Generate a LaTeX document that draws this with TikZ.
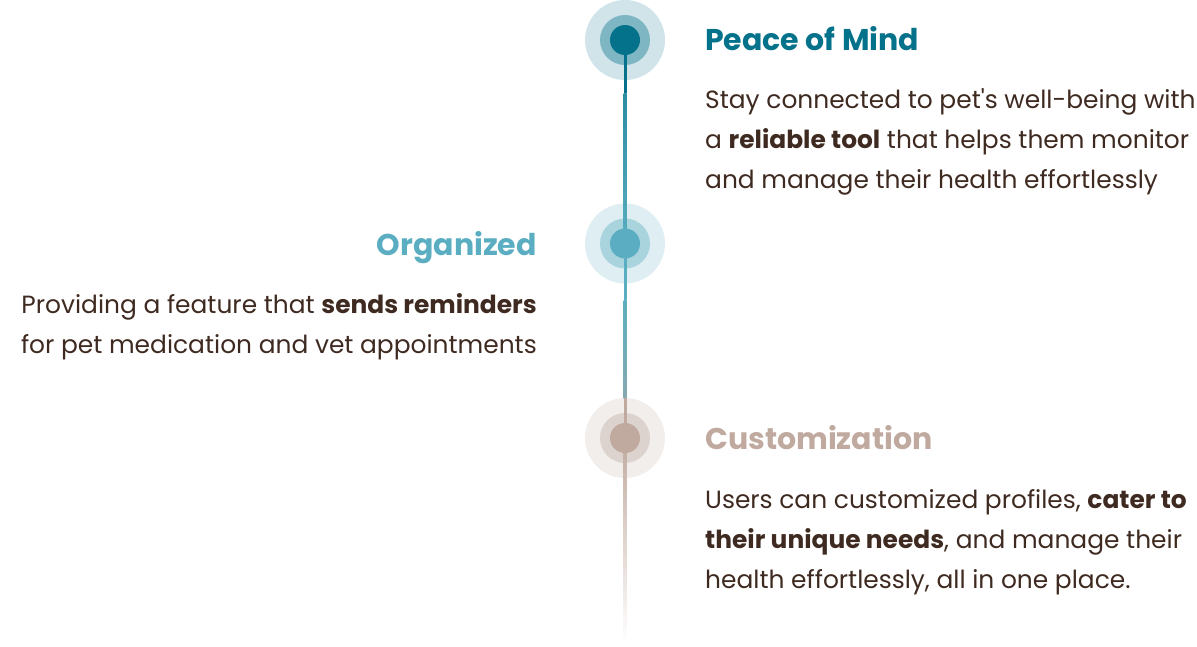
\documentclass[tikz,border=0pt]{standalone}
\usepackage{fontspec}
\setmainfont{Poppins}
\definecolor{tealA}{HTML}{04728A}
\definecolor{tealAmid}{HTML}{7FB6C4}
\definecolor{tealAout}{HTML}{D0E4EA}
\definecolor{tealB}{HTML}{5BAEC1}
\definecolor{tealBmid}{HTML}{A9D4DD}
\definecolor{tealBout}{HTML}{DFEEF2}
\definecolor{beige}{HTML}{C0A99E}
\definecolor{beigemid}{HTML}{DDD3CE}
\definecolor{beigeout}{HTML}{F1EEEC}
\definecolor{linkA}{HTML}{2B8DA2}
\definecolor{grayteal}{HTML}{86A9B0}
\definecolor{txt}{HTML}{3E2A20}
\begin{document}
\begin{tikzpicture}[x=1pt,y=1pt,
  dot/.style={circle,inner sep=0pt,draw=none},
  head/.style={font=\fontsize{30}{36}\selectfont\bfseries,inner sep=0pt},
  body/.style={font=\fontsize{24.9}{40}\selectfont,text=txt,inner sep=0pt}]
\useasboundingbox (0,0) rectangle (1197,-646);
% rings
\node[dot,fill=tealAout,minimum size=80pt] (o1) at (625,-40) {};
\node[dot,fill=tealAmid,minimum size=50pt] (m1) at (625,-40) {};
\node[dot,fill=tealBout,minimum size=80pt] (o2) at (625,-243.5) {};
\node[dot,fill=tealBmid,minimum size=50pt] (m2) at (625,-243.5) {};
\node[dot,fill=beigeout,minimum size=80pt] (o3) at (625,-438) {};
\node[dot,fill=beigemid,minimum size=50pt] (m3) at (625,-438) {};
\coordinate (k1) at (625,-93);
\coordinate (k2) at (625,-300);
\coordinate (k3) at (625,-398);
\coordinate (endp) at (625,-642);
% connector line
\fill[tealA] ([xshift=-1.5pt]o1.center) rectangle ([xshift=1.5pt]k1);
\shade[top color=linkA,bottom color=tealB] ([xshift=-1.5pt]k1) rectangle ([xshift=1.5pt]o2.center);
\fill[tealB] ([xshift=-1.5pt]o2.center) rectangle ([xshift=1.5pt]k2);
\shade[top color=tealB,bottom color=grayteal] ([xshift=-1.5pt]k2) rectangle ([xshift=1.5pt]k3);
\fill[beige] ([xshift=-1.5pt]k3) rectangle ([xshift=1.5pt]o3.center);
\shade[top color=beige,bottom color=white] ([xshift=-1.5pt]o3.center) rectangle ([xshift=1.5pt]endp);
% inner dots
\node[dot,fill=tealA,minimum size=30pt] (i1) at (o1) {};
\node[dot,fill=tealB,minimum size=30pt] (i2) at (o2) {};
\node[dot,fill=beige,minimum size=30pt] (i3) at (o3) {};
% texts
\node[head,text=tealA,anchor=base west] (h1) at (705,-50) {Peace of Mind};
\node[body,anchor=base west] (b11) at (705,-108) {Stay connected to pet\textquotesingle s well-being with};
\node[body,anchor=base west] (b12) at (705,-148) {a \textbf{reliable tool} that helps them monitor};
\node[body,anchor=base west] (b13) at (705,-188) {and manage their health effortlessly};
\node[head,text=tealB,anchor=base east] (h2) at (537,-255) {Organized};
\node[body,anchor=base east] (b21) at (537,-313) {Providing a feature that \textbf{sends reminders}};
\node[body,anchor=base east] (b22) at (537,-353) {for pet medication and vet appointments};
\node[head,text=beige,anchor=base west] (h3) at (705,-449) {Customization};
\node[body,anchor=base west] (b31) at (705,-508) {Users can customized profiles, \textbf{cater to}};
\node[body,anchor=base west] (b32) at (705,-548) {\textbf{their unique needs}, and manage their};
\node[body,anchor=base west] (b33) at (705,-588) {health effortlessly, all in one place.};
\end{tikzpicture}
\end{document}
